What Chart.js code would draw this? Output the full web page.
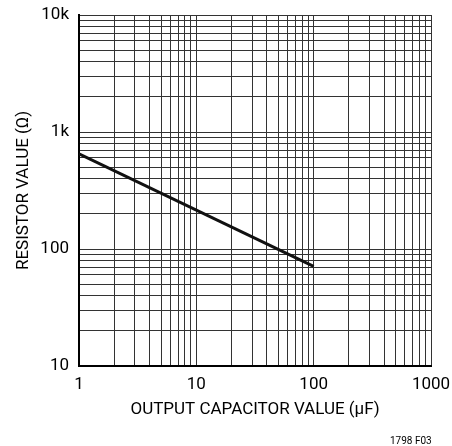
<!DOCTYPE html>
<html>
<head>
<meta charset="utf-8">
<script src="https://cdn.jsdelivr.net/npm/chart.js@4/dist/chart.umd.min.js"></script>
<style>
  html, body { margin: 0; padding: 0; background: #fff; }
  #wrap { position: relative; width: 452px; height: 446px; }
  #note { position: absolute; left: 390px; top: 435px; font: 10px Roboto, 'Liberation Sans', sans-serif; color: #000; }
</style>
</head>
<body>
<div id="wrap">
  <canvas id="chart" width="452" height="446"></canvas>
  <div id="note">1798 F03</div>
</div>
<script>
// 曲线数据 (µF -> Ω)
const capacitance = [1, 100];
const resistance = [650, 71];

// 坐标轴刻度
const xTickValues = [1, 10, 100, 1000];
const xTickLabels = ['1', '10', '100', '1000'];
const yTickValues = [10, 100, 1000, 10000];
const yTickLabels = ['10', '100', '1k', '10k'];

const FONT = "Roboto, 'Liberation Sans', sans-serif";
const FONT_SIZE = 17;

// 每个十进位的 1..9 网格线
function decadeTicks(values) {
    let ticks = [];
    for (let i = 0; i < values.length - 1; i++) {
        for (let m = 1; m < 10; m++) {
            ticks.push({ value: values[i] * m });
        }
    }
    ticks.push({ value: values[values.length - 1] });
    return ticks;
}

function labelFor(values, labels) {
    return function (value) {
        let idx = values.findIndex(v => Math.abs(v - value) < 1e-6 * v);
        return idx >= 0 ? labels[idx] : '';
    };
}

let ctx = document.getElementById('chart').getContext('2d');
new Chart(ctx, {
    type: 'line',
    data: {
        datasets: [{
            data: capacitance.map((c, i) => ({ x: c, y: resistance[i] })),
            borderColor: '#111',
            borderWidth: 3,
            pointRadius: 0,
            fill: false,
            tension: 0
        }]
    },
    options: {
        responsive: false,
        devicePixelRatio: 1,
        animation: false,
        layout: { padding: { top: 15, right: 21, left: 0, bottom: 0 } },
        plugins: { legend: { display: false }, tooltip: { enabled: false } },
        scales: {
            x: {
                type: 'logarithmic',
                min: 1,
                max: 1000,
                afterBuildTicks: scale => { scale.ticks = decadeTicks(xTickValues); },
                afterFit: scale => {
                    scale.height = 80;
                    scale.paddingLeft = 0;
                    scale.paddingRight = 0;
                },
                grid: { color: '#333', lineWidth: 1, drawTicks: false },
                border: { color: '#000', width: 2 },
                ticks: {
                    autoSkip: false,
                    maxRotation: 0,
                    minRotation: 0,
                    padding: 9,
                    color: '#000',
                    font: { family: FONT, size: FONT_SIZE },
                    callback: labelFor(xTickValues, xTickLabels)
                },
                title: {
                    display: true,
                    text: 'OUTPUT CAPACITOR VALUE (µF)',
                    color: '#000',
                    font: { family: FONT, size: FONT_SIZE },
                    padding: { top: 0, bottom: 26 }
                }
            },
            y: {
                type: 'logarithmic',
                min: 10,
                max: 10000,
                afterBuildTicks: scale => { scale.ticks = decadeTicks(yTickValues); },
                afterFit: scale => {
                    scale.width = 79;
                    scale.paddingTop = 0;
                    scale.paddingBottom = 0;
                },
                grid: { color: '#333', lineWidth: 1, drawTicks: false },
                border: { color: '#000', width: 2 },
                ticks: {
                    autoSkip: false,
                    padding: 10,
                    color: '#000',
                    font: { family: FONT, size: FONT_SIZE },
                    callback: labelFor(yTickValues, yTickLabels)
                },
                title: {
                    display: true,
                    text: 'RESISTOR VALUE (Ω)',
                    color: '#000',
                    font: { family: FONT, size: FONT_SIZE },
                    padding: { top: 14, bottom: 0 }
                }
            }
        }
    }
});
</script>
</body>
</html>
